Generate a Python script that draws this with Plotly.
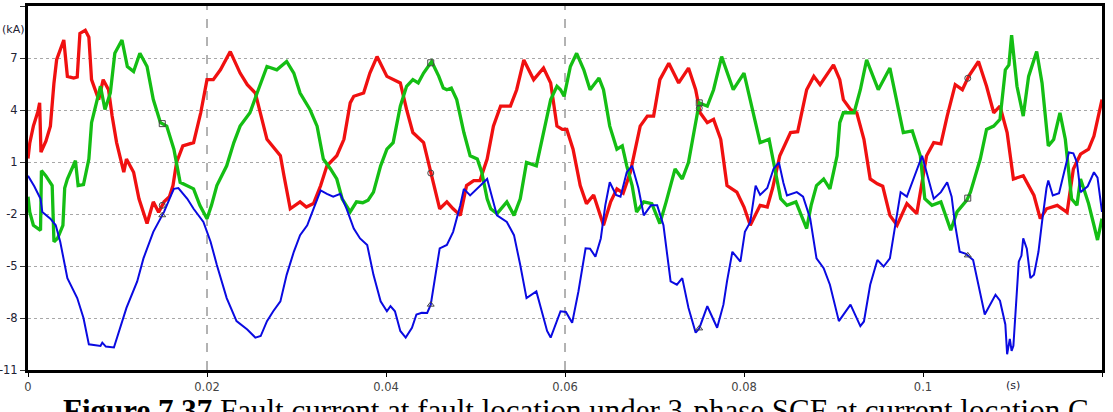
import numpy as np
import plotly.graph_objects as go

# ---------------- data ----------------
red_t = [0.0000, 0.0002, 0.0006, 0.0011, 0.0013, 0.00145, 0.0020, 0.0025, 0.0029, 0.0032,
         0.0040, 0.0044, 0.0051, 0.0055, 0.0058, 0.0064, 0.0068, 0.0071, 0.0079, 0.0084,
         0.0090, 0.0094, 0.0099, 0.0107, 0.0110, 0.0118, 0.0124, 0.0133, 0.0140, 0.0146,
         0.0152, 0.0158, 0.0162, 0.0166, 0.0173, 0.0185, 0.0193, 0.0200, 0.0207, 0.0215,
         0.0226, 0.0237, 0.0245, 0.0254, 0.0267, 0.0282, 0.0286, 0.0293, 0.0304, 0.0311,
         0.0319, 0.0327, 0.0334, 0.0345, 0.0353, 0.0360, 0.0364, 0.0375, 0.0382, 0.0390,
         0.0401, 0.0408, 0.0416, 0.0423, 0.0430, 0.0442, 0.0449, 0.0453, 0.0460, 0.0468,
         0.0475, 0.0483, 0.0490, 0.0498, 0.0505, 0.0513, 0.0520, 0.0528, 0.0539, 0.0546,
         0.0554, 0.0565, 0.0576, 0.0584, 0.0591, 0.0597, 0.0602, 0.0609, 0.0617, 0.0624,
         0.0632, 0.0643, 0.0651, 0.0658, 0.0665, 0.0673, 0.0684, 0.0692, 0.0699, 0.0706,
         0.0716, 0.0727, 0.0738, 0.0746, 0.0751, 0.0759, 0.0766, 0.0774, 0.0781, 0.0792,
         0.0800, 0.0807, 0.0818, 0.0826, 0.0832, 0.0840, 0.0852, 0.0860, 0.0870, 0.0878,
         0.0885, 0.0900, 0.0907, 0.0911, 0.0919, 0.0926, 0.0934, 0.0941, 0.0949, 0.0955,
         0.0963, 0.0971, 0.0982, 0.0993, 0.0998, 0.1004, 0.1012, 0.1020, 0.1027, 0.1036,
         0.1044, 0.1051, 0.1062, 0.1071, 0.1079, 0.1086, 0.1094, 0.1101, 0.1112, 0.1124,
         0.1131, 0.1138, 0.1150, 0.1161, 0.1168, 0.1176, 0.1185, 0.1191, 0.1200]
red_v = [1.2, 2.1, 3.07, 3.9, 4.41, 1.57, 2.2, 3.07, 5.56, 6.9,
         8.04, 5.94, 5.84, 5.9, 8.42, 8.6, 8.2, 5.75, 4.6, 5.75,
         5.17, 3.65, 2.12, 0.41, 1.17, 0.41, -1.12, -2.55, -1.3, -1.9,
         -1.3, -1.0, -0.36, 0.98, 1.93, 2.12, 3.84, 5.75, 5.75, 6.32,
         7.37, 6.13, 5.46, 4.98, 2.31, 1.36, 0.21, -1.7, -1.3, -1.6,
         -1.4, -0.36, 0.78, 1.36, 2.31, 4.41, 4.79, 4.98, 6.13, 7.08,
         5.94, 5.75, 5.56, 4.03, 2.7, 2.12, 0.6, -0.36, -1.7, -1.3,
         -1.7, -2.08, -0.36, -0.07, -0.07, 1.17, 3.07, 4.22, 4.22, 5.17,
         6.89, 5.75, 6.42, 5.56, 3.07, 2.88, 2.88, 1.74, -0.36, -1.4,
         -0.9, -2.65, -1.3, -0.55, -0.8, 0.41, 3.07, 3.65, 3.65, 5.75,
         6.7, 5.56, 6.42, 5.17, 3.84, 3.27, 3.46, 2.31, -0.36, -0.74,
         -1.6, -2.65, -1.5, -1.6, -0.5, 1.36, 2.7, 2.75, 5.17, 5.94,
         5.46, 6.6, 5.75, 4.6, 4.03, 3.84, 2.31, 0.02, -0.26, -0.4,
         -2.08, -2.65, -1.4, -1.98, -0.5, 1.36, 2.12, 2.05, 3.65, 5.46,
         5.17, 5.94, 6.8, 5.37, 3.84, 4.22, 2.7, 0.02, 0.21, -0.93,
         -2.27, -1.7, -1.5, -1.9, 0.6, 1.45, 1.74, 2.5, 4.6]

green_t = [0.0000, 0.0002, 0.0006, 0.0014, 0.0015, 0.0020, 0.0027, 0.0029, 0.0033, 0.0039,
           0.0041, 0.0044, 0.0053, 0.0056, 0.0062, 0.0068, 0.0071, 0.0081, 0.0086, 0.0092,
           0.0097, 0.0105, 0.0111, 0.0118, 0.0125, 0.0133, 0.0140, 0.0148, 0.0155, 0.0163,
           0.0170, 0.0178, 0.0185, 0.0192, 0.0200, 0.0205, 0.0211, 0.0222, 0.0230, 0.0237,
           0.0248, 0.0256, 0.0267, 0.0278, 0.0289, 0.0297, 0.0304, 0.0315, 0.0323, 0.0330,
           0.0338, 0.0345, 0.0351, 0.0360, 0.0367, 0.0374, 0.0380, 0.0386, 0.0394, 0.0401,
           0.0408, 0.0416, 0.0423, 0.0430, 0.0436, 0.0442, 0.0451, 0.0459, 0.0464, 0.0468,
           0.0473, 0.0479, 0.0487, 0.0494, 0.0502, 0.0507, 0.0513, 0.0517, 0.0524, 0.0535,
           0.0543, 0.0550, 0.0557, 0.0568, 0.0576, 0.0584, 0.0591, 0.0595, 0.0599, 0.0606,
           0.0613, 0.0621, 0.0628, 0.0638, 0.0643, 0.0650, 0.0658, 0.0664, 0.0669, 0.0675,
           0.0680, 0.0688, 0.0697, 0.0706, 0.0713, 0.0718, 0.0723, 0.0731, 0.0738, 0.0744,
           0.0750, 0.0759, 0.0766, 0.0775, 0.0788, 0.0800, 0.0809, 0.0818, 0.0828, 0.0833,
           0.0841, 0.0848, 0.0858, 0.0870, 0.0875, 0.0881, 0.0889, 0.0896, 0.0904, 0.0907,
           0.0911, 0.0923, 0.0930, 0.0937, 0.0950, 0.0963, 0.0969, 0.0978, 0.0988, 0.0997,
           0.1002, 0.1010, 0.1020, 0.1031, 0.1038, 0.1049, 0.1053, 0.1064, 0.1071, 0.1079,
           0.1086, 0.1092, 0.1096, 0.1099, 0.1105, 0.1112, 0.1118, 0.1127, 0.1133, 0.1140,
           0.1146, 0.1153, 0.1159, 0.1166, 0.1172, 0.1176, 0.1180, 0.1185, 0.1191, 0.1195,
           0.1200]
green_v = [-1.0, -1.9, -2.65, -2.94, 0.5, 0.2, -0.36, -3.6, -3.4, -2.65,
           -0.5, 0.02, 1.07, -0.36, -0.3, 1.17, 3.27, 5.37, 4.03, 4.98,
           7.27, 8.04, 6.51, 6.22, 7.27, 6.51, 4.6, 3.27, 3.07, 1.74,
           -0.17, -0.4, -0.55, -1.5, -2.27, -1.5, -0.36, 0.78, 2.12, 3.07,
           3.84, 4.98, 6.51, 6.32, 6.8, 6.13, 4.98, 4.03, 3.07, 1.17,
           0.6, 0.02, -1.12, -1.88, -1.3, -1.35, -1.2, -0.74, 0.78, 1.74,
           2.12, 4.22, 5.37, 5.75, 5.56, 6.13, 6.8, 5.94, 5.27, 5.17,
           5.27, 4.6, 2.7, 1.36, 1.17, 0.41, -1.12, -1.7, -1.98, -1.3,
           -2.08, -1.12, 0.98, 0.78, 2.7, 4.6, 5.37, 5.17, 4.79, 6.51,
           7.27, 6.32, 5.17, 5.84, 5.17, 3.07, 1.74, 1.93, 0.78, -0.36,
           -1.88, -1.3, -1.4, -2.55, -1.3, -0.36, 0.6, 0.02, 0.98, 2.7,
           4.41, 4.22, 5.17, 7.08, 5.17, 6.13, 4.22, 2.12, 2.31, 0.98,
           -1.12, -1.5, -1.3, -2.84, -1.5, -0.36, 0.02, -0.55, 1.36, 3.27,
           3.84, 3.84, 5.17, 6.89, 5.17, 6.42, 4.98, 2.7, 2.79, 1.36,
           -1.12, -1.5, -1.3, -2.94, -1.88, -1.2, -0.74, 1.17, 2.88, 3.07,
           3.46, 6.32, 6.6, 8.32, 5.37, 3.65, 5.94, 7.37, 5.56, 1.93,
           2.3, 3.84, 2.31, -1.12, -1.5, 0.02, -0.6, -1.4, -2.65, -3.5,
           -2.27]

blue_t = [0.0000, 0.0007, 0.0014, 0.0016, 0.0025, 0.0031, 0.0036, 0.0044, 0.0055, 0.0062,
          0.0068, 0.0081, 0.0083, 0.0087, 0.0096, 0.0103, 0.0110, 0.0122, 0.0129, 0.0140,
          0.0152, 0.0160, 0.0163, 0.0168, 0.0178, 0.0185, 0.0196, 0.0204, 0.0211, 0.0222,
          0.0233, 0.0245, 0.0254, 0.0260, 0.0267, 0.0274, 0.0282, 0.0289, 0.0297, 0.0304,
          0.0312, 0.0319, 0.0327, 0.0334, 0.0341, 0.0349, 0.0356, 0.0364, 0.0371, 0.0379,
          0.0386, 0.0394, 0.0401, 0.0405, 0.0410, 0.0416, 0.0422, 0.0429, 0.0434, 0.0440,
          0.0446, 0.0450, 0.0457, 0.0460, 0.0468, 0.0475, 0.0483, 0.0487, 0.0494, 0.0505,
          0.0513, 0.0518, 0.0524, 0.0535, 0.0543, 0.0550, 0.0557, 0.0568, 0.0580, 0.0584,
          0.0591, 0.0595, 0.0601, 0.0608, 0.0615, 0.0623, 0.0628, 0.0634, 0.0640, 0.0645,
          0.0650, 0.0657, 0.0662, 0.0669, 0.0675, 0.0682, 0.0688, 0.0696, 0.0703, 0.0710,
          0.0718, 0.0725, 0.0731, 0.0738, 0.0746, 0.0750, 0.0759, 0.0770, 0.0777, 0.0781,
          0.0787, 0.0796, 0.0801, 0.0807, 0.0813, 0.0818, 0.0826, 0.0833, 0.0839, 0.0844,
          0.0848, 0.0859, 0.0866, 0.0874, 0.0881, 0.0889, 0.0896, 0.0906, 0.0919, 0.0930,
          0.0934, 0.0941, 0.0949, 0.0956, 0.0963, 0.0969, 0.0975, 0.0982, 0.0999, 0.1004,
          0.1012, 0.1020, 0.1027, 0.1032, 0.1036, 0.1041, 0.1048, 0.1056, 0.1064, 0.1069,
          0.1081, 0.1086, 0.1092, 0.1094, 0.1097, 0.1099, 0.1101, 0.1103, 0.1107, 0.1110,
          0.1112, 0.1116, 0.1120, 0.1124, 0.1129, 0.1133, 0.1138, 0.1140, 0.1145, 0.1152,
          0.1163, 0.1168, 0.1172, 0.1176, 0.1184, 0.1191, 0.1195, 0.1200]
blue_v = [0.21, -0.4, -1.12, -1.88, -2.27, -2.65, -3.6, -5.7, -6.85, -8.0,
          -9.52, -9.61, -9.42, -9.65, -9.7, -8.56, -7.42, -5.89, -4.56, -3.03,
          -1.88, -0.9, -0.55, -0.5, -1.12, -1.7, -2.46, -3.6, -4.94, -6.85,
          -8.18, -8.66, -9.13, -9.04, -8.18, -7.61, -7.04, -5.51, -4.18, -3.22,
          -2.65, -1.7, -0.64, -0.84, -1.0, -0.84, -1.7, -2.84, -3.41, -3.79,
          -5.51, -7.04, -7.61, -7.32, -7.61, -8.75, -9.13, -8.56, -7.8, -7.7,
          -7.71, -7.23, -4.94, -3.98, -3.79, -3.03, -1.5, -0.55, -0.93, -0.36,
          0.02, -0.93, -2.08, -2.46, -3.22, -4.94, -6.85, -6.47, -8.75, -9.13,
          -8.18, -7.61, -7.65, -8.28, -6.47, -3.98, -4.0, -4.46, -3.41, -1.5,
          -0.17, -0.9, -1.0, 0.41, 0.78, -0.5, -2.08, -1.5, -1.5, -2.65,
          -5.89, -6.08, -5.7, -7.42, -8.85, -8.6, -7.32, -8.56, -7.23, -5.89,
          -4.18, -4.75, -3.03, -2.46, -0.36, -0.9, -0.5, 0.6, 0.98, -0.2,
          -0.93, -0.74, -1.0, -2.27, -4.56, -5.13, -6.08, -8.18, -7.23, -8.47,
          -8.2, -6.08, -4.65, -5.03, -4.56, -2.65, -0.74, -1.0, 1.36, 0.41,
          -1.12, -0.74, -0.17, -1.0, -2.65, -4.18, -4.3, -4.65, -6.66, -7.8,
          -6.66, -7.0, -8.37, -10.09, -9.2, -9.9, -9.6, -8.0, -4.75, -4.4,
          -3.41, -4.0, -5.7, -5.5, -4.18, -2.46, -0.5, -0.07, -0.93, -0.8,
          1.55, 1.5, 0.98, -0.74, -0.4, 0.41, 0.1, -1.88]

# marker times of the simulator's curve markers
marker_t = [0.015, 0.045, 0.075, 0.105]

x_ticks = [0, 0.02, 0.04, 0.06, 0.08, 0.1, 0.12]
x_ticktext = ["0", "0.02", "0.04", "0.06", "0.08", "0.1", "0.12"]
y_ticks = [10, 7, 4, 1, -2, -5, -8, -11]
y_ticktext = ["10", "7", "4", "1", "-2", "-5", "-8", "-11"]
vgrid_x = [0.02, 0.06]

caption = "<b>Figure 7.37</b> Fault current at fault location under 3-phase SCF at current location C"

# ---------------- figure ----------------
fig = go.Figure()

series = [
    (red_t, red_v, "rgb(240,16,16)", 3.3, "circle-open"),
    (green_t, green_v, "rgb(20,190,20)", 3.3, "square-open"),
    (blue_t, blue_v, "rgb(10,10,225)", 2.0, "triangle-up-open"),
]
for t, v, col, w, sym in series:
    fig.add_trace(go.Scatter(x=t, y=v, mode="lines",
                             line=dict(color=col, width=w),
                             hoverinfo="skip", showlegend=False))
for t, v, col, w, sym in series:
    fig.add_trace(go.Scatter(x=marker_t, y=np.interp(marker_t, t, v), mode="markers",
                             marker=dict(symbol=sym, size=6, color="#444",
                                         line=dict(width=1, color="#444")),
                             hoverinfo="skip", showlegend=False))

for xv in vgrid_x:
    fig.add_shape(type="line", xref="x", yref="paper", x0=xv, x1=xv, y0=0, y1=1,
                  line=dict(color="#666666", width=1, dash="dash"), layer="below")

fig.update_layout(
    width=1113, height=412,
    margin=dict(l=28, r=11, t=6, b=42),
    paper_bgcolor="white", plot_bgcolor="white",
    font=dict(family="DejaVu Sans", size=11, color="#333"),
    xaxis=dict(range=[0, 0.12], tickvals=x_ticks, ticktext=x_ticktext,
               showgrid=False, zeroline=False, automargin=False,
               showline=True, linecolor="black", linewidth=2.5, mirror=True,
               ticks="outside", ticklen=4, tickcolor="black", tickwidth=1,
               tickfont=dict(size=11.5, color="#444")),
    yaxis=dict(range=[-11, 10], tickvals=y_ticks, ticktext=y_ticktext,
               showgrid=True, gridcolor="#a8a8a8", griddash="dot", gridwidth=1,
               zeroline=False, automargin=False,
               showline=True, linecolor="black", linewidth=3, mirror=True,
               ticks="outside", ticklen=5, tickcolor="#333", tickwidth=1,
               tickfont=dict(size=11.5, color="#223", family="DejaVu Sans")),
)

fig.add_annotation(text="(kA)", xref="paper", yref="paper", x=-0.0265, y=0.935,
                   xanchor="left", yanchor="middle", showarrow=False,
                   font=dict(size=11, color="#223"))
fig.add_annotation(text="(s)", xref="paper", yref="paper", x=0.917, y=-0.042,
                   xanchor="center", yanchor="middle", showarrow=False,
                   font=dict(size=11, color="#223"))
fig.add_annotation(text=caption, xref="paper", yref="paper", x=0.51, y=-0.058,
                   xanchor="center", yanchor="top", showarrow=False,
                   font=dict(family="Liberation Serif", size=31, color="black"))

fig.write_html("out.html")
